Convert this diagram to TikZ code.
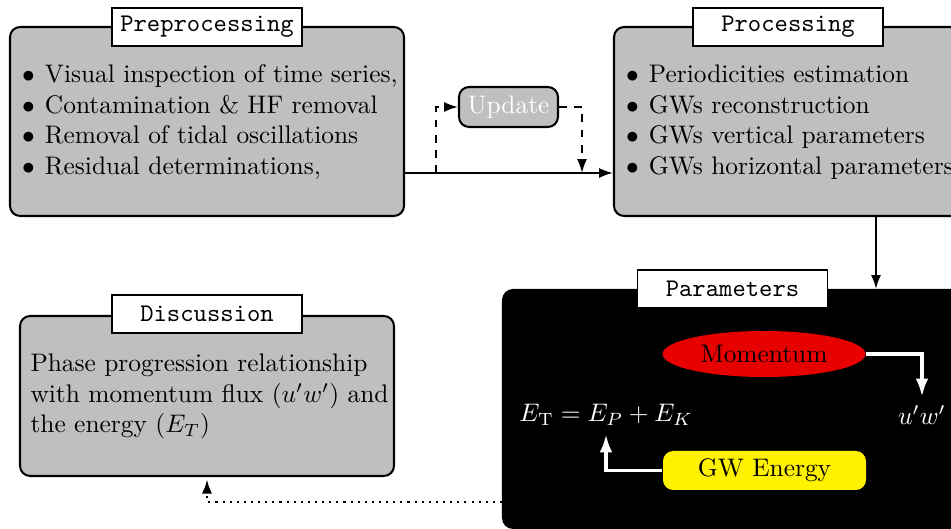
\documentclass[tikz,border=0pt]{standalone}
\usetikzlibrary{arrows.meta,shapes.geometric}
% one drawing unit in pt, used for sizes given in the same units as coordinates
\def\pxu{*0.3937pt}
\definecolor{boxgray}{RGB}{191,191,191}
\definecolor{momred}{RGB}{230,0,0}
\definecolor{enyellow}{RGB}{255,242,0}
\begin{document}
\begin{tikzpicture}[x=0.3937pt,y=-0.3937pt,
  panel/.style={draw, thick, fill=boxgray, rounded corners=4pt, inner sep=0pt},
  darkpanel/.style={draw, thick, fill=black, rounded corners=4pt, inner sep=0pt},
  titlebox/.style={draw, semithick, fill=white, font=\ttfamily, inner sep=0pt,
    minimum width=190\pxu, minimum height=38\pxu},
  listtext/.style={anchor=base west, inner sep=0pt, align=left},
  updbox/.style={draw, thick, fill=boxgray, rounded corners=4pt, text=white,
    minimum width=99\pxu, minimum height=40\pxu, inner sep=0pt},
  arr/.style={thick, -{Latex[length=5.5pt,width=4pt]}},
  warr/.style={white, line width=1.2pt, -{Latex[length=7pt,width=5pt]}},
]
\useasboundingbox (0,0) rectangle (951,529);

% main panels
\node[panel, minimum width=394\pxu, minimum height=189\pxu] (pre) at (207,121.5) {};
\node[panel, minimum width=400\pxu, minimum height=189\pxu] (proc) at (814,121.5) {};
\node[darkpanel, minimum width=520\pxu, minimum height=238\pxu] (par) at (763,409) {};
\node[panel, minimum width=374\pxu, minimum height=160\pxu] (disc) at (207,396) {};

% panel titles
\node[titlebox] (pretitle) at (207,27) {Preprocessing};
\node[titlebox] (proctitle) at (788,27) {Processing};
\node[titlebox] (partitle) at (732.5,289) {Parameters};
\node[titlebox] (disctitle) at (207,314) {Discussion};

% panel contents
\node[listtext] (prelist) at (21.6,83) {\begin{tabular}[t]{@{}l@{\hspace{4pt}}l@{}}
  $\bullet$ & Visual inspection of time series,\\
  $\bullet$ & Contamination \& HF removal\\
  $\bullet$ & Removal of tidal oscillations\\
  $\bullet$ & Residual determinations,
\end{tabular}};
\node[listtext] (proclist) at (625.6,83) {\begin{tabular}[t]{@{}l@{\hspace{4pt}}l@{}}
  $\bullet$ & Periodicities estimation\\
  $\bullet$ & GWs reconstruction\\
  $\bullet$ & GWs vertical parameters\\
  $\bullet$ & GWs horizontal parameters
\end{tabular}};
\node[listtext] (disctext) at (30,372) {\begin{tabular}[t]{@{}l@{}}
  Phase progression relationship\\
  with momentum flux ($u'w'$) and\\
  the energy ($E_T$)
\end{tabular}};

% update loop
\node[updbox] (upd) at (508.5,107) {Update};
\coordinate (mainy) at (0,173);
\coordinate (split) at (436,173);
\coordinate (join) at (582,173);
\draw[arr] (pre.east |- mainy) -- (proc.west |- mainy);
\draw[arr, dashed] (split) |- (upd.west);
\draw[arr, dashed] (upd.east) -| (join);

% processing to parameters
\coordinate (drop) at (876,0);
\draw[arr] (proc.south -| drop) -- (par.north -| drop);

% parameters contents
\node[ellipse, fill=momred, minimum width=203\pxu, minimum height=46\pxu, inner sep=0pt] (mom) at (764,354) {Momentum};
\node[text=white] (uw) at (922,415) {$u'w'$};
\node[text=white] (et) at (606,415) {$E_{\mathrm{T}} = E_P + E_K$};
\node[fill=enyellow, rounded corners=4pt, minimum width=203\pxu, minimum height=39\pxu, inner sep=0pt] (gw) at (764.5,470.5) {GW Energy};
\draw[warr] (mom.east) -| (uw.north);
\draw[warr] (gw.west) -| (et.south);

% feedback to discussion
\coordinate (doty) at (0,502);
\draw[arr, dotted, shorten >=1pt] (par.west |- doty) -| (disc.south);
\end{tikzpicture}
\end{document}
